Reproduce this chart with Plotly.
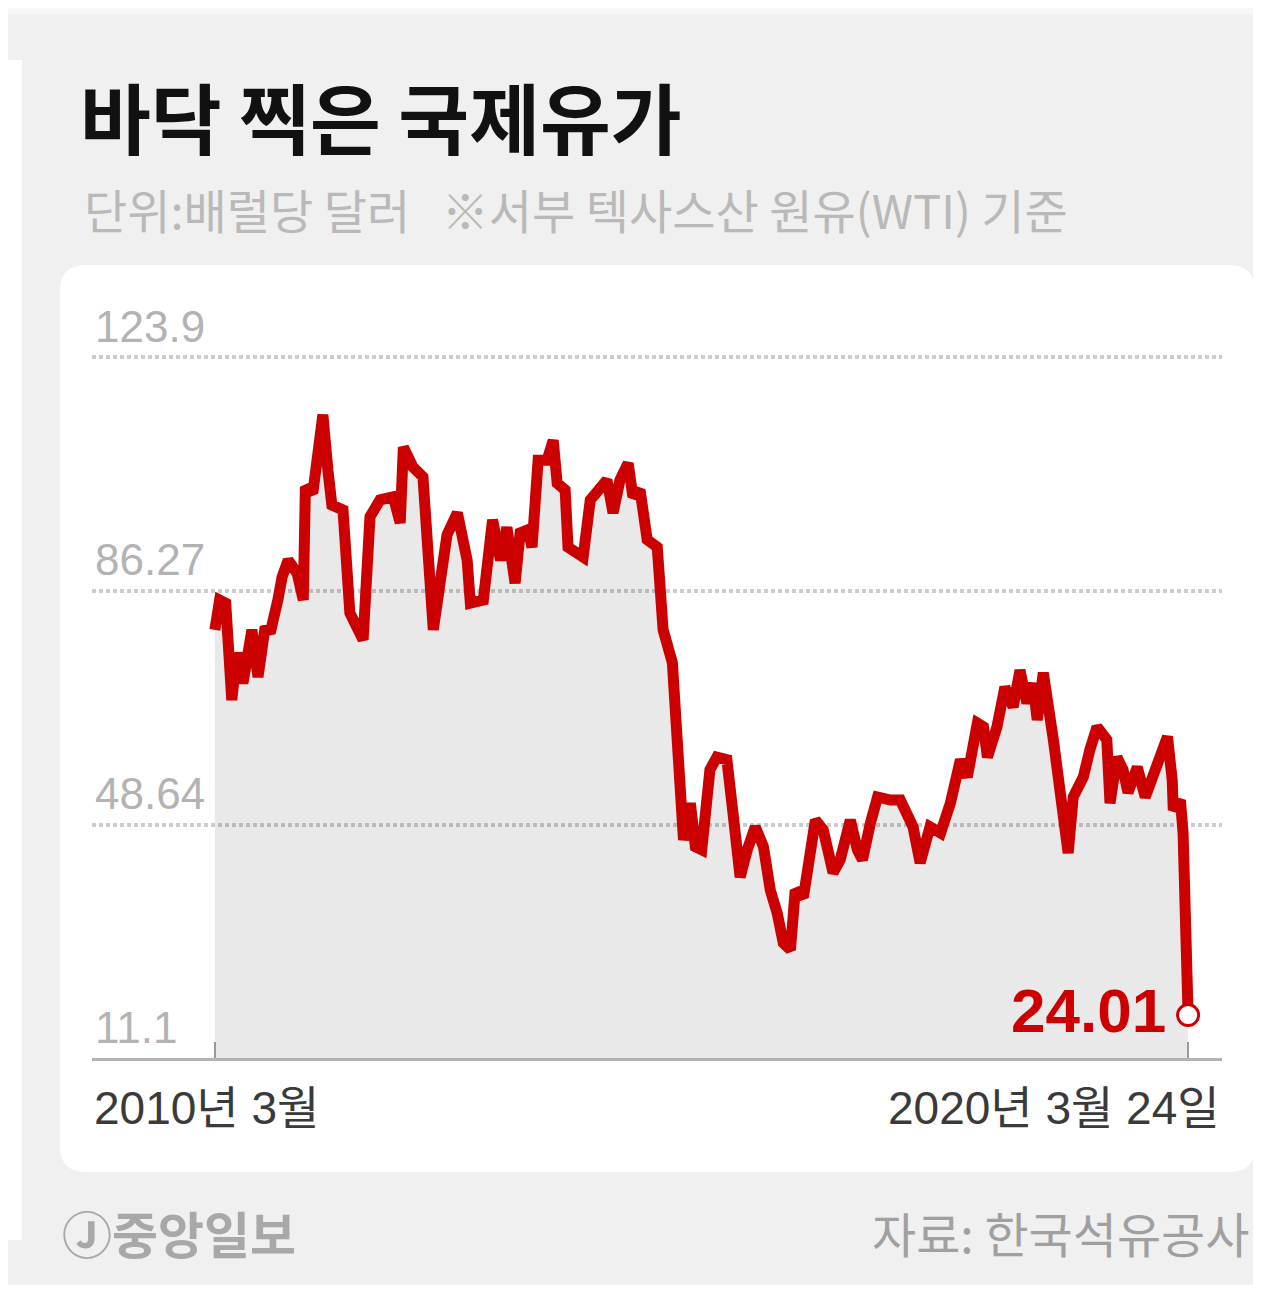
import plotly.graph_objects as go

# WTI price (USD per barrel)
dates = [
    "2010-03-01", "2010-03-19", "2010-04-11", "2010-05-04", "2010-05-23", "2010-06-15",
    "2010-07-19", "2010-08-11", "2010-09-07", "2010-09-26", "2010-10-25", "2010-11-10",
    "2010-12-03", "2011-01-06", "2011-01-29", "2011-02-06", "2011-03-06", "2011-04-13",
    "2011-05-02", "2011-05-17", "2011-06-28", "2011-07-24", "2011-09-12", "2011-10-08",
    "2011-11-15", "2012-01-04", "2012-01-30", "2012-02-11", "2012-03-18", "2012-04-25",
    "2012-06-03", "2012-07-25", "2012-09-02", "2012-10-09", "2012-10-21", "2012-12-09",
    "2013-01-13", "2013-02-12", "2013-03-08", "2013-04-08", "2013-04-27", "2013-05-27",
    "2013-06-11", "2013-07-04", "2013-08-07", "2013-08-30", "2013-09-14", "2013-10-14",
    "2013-10-25", "2013-11-29", "2013-12-21", "2014-01-17", "2014-02-24", "2014-03-21",
    "2014-04-13", "2014-05-09", "2014-06-09", "2014-06-27", "2014-07-24", "2014-08-20",
    "2014-09-27", "2014-10-19", "2014-11-23", "2014-12-12", "2015-01-04", "2015-01-30",
    "2015-02-18", "2015-03-14", "2015-04-14", "2015-05-10", "2015-06-17", "2015-07-10",
    "2015-08-06", "2015-09-02", "2015-10-02", "2015-11-02", "2015-11-28", "2015-12-24",
    "2016-01-16", "2016-02-12", "2016-03-01", "2016-04-01", "2016-04-27", "2016-05-16",
    "2016-06-15", "2016-07-22", "2016-08-18", "2016-09-25", "2016-10-22", "2016-11-10",
    "2016-12-10", "2017-01-06", "2017-02-24", "2017-04-02", "2017-05-20", "2017-06-16",
    "2017-07-23", "2017-09-01", "2017-10-08", "2017-11-15", "2017-12-11", "2018-01-18",
    "2018-02-10", "2018-02-25", "2018-04-02", "2018-05-02", "2018-06-02", "2018-06-28",
    "2018-07-24", "2018-08-16", "2018-09-01", "2018-09-24", "2018-11-01", "2018-12-04",
    "2018-12-27", "2019-01-15", "2019-02-22", "2019-03-19", "2019-04-15", "2019-05-22",
    "2019-06-03", "2019-06-29", "2019-07-22", "2019-08-10", "2019-09-14", "2019-10-14",
    "2019-11-13", "2019-12-17", "2020-01-06", "2020-01-24", "2020-01-28", "2020-02-24",
    "2020-03-05", "2020-03-24",
]
prices = [
    80.0, 84.8, 84.3, 68.7, 76.3, 71.4,
    80.0, 72.4, 80.5, 79.5, 84.8, 88.5,
    91.2, 89.1, 84.8, 103.0, 102.0, 114.6,
    105.7, 100.1, 99.3, 82.7, 78.4, 98.2,
    100.9, 101.4, 97.2, 109.4, 106.2, 104.6,
    80.0, 95.3, 98.8, 91.2, 84.3, 84.8,
    97.7, 91.2, 96.5, 87.5, 95.6, 96.1,
    93.3, 107.3, 107.3, 110.5, 103.6, 102.5,
    93.3, 92.4, 91.7, 100.9, 103.0, 104.1,
    98.8, 104.1, 106.8, 101.4, 102.5, 94.5,
    93.3, 80.0, 74.7, 58.6, 46.2, 52.1,
    45.1, 44.6, 57.5, 59.5, 59.1, 50.5,
    40.2, 44.6, 48.3, 45.1, 38.1, 34.4,
    29.6, 28.5, 38.1, 37.0, 45.7, 49.4,
    47.8, 40.9, 43.0, 49.4, 44.6, 43.0,
    48.9, 53.1, 52.6, 52.6, 48.3, 42.5,
    48.3, 47.3, 52.1, 59.1, 56.3, 65.0,
    64.4, 59.5, 64.4, 70.8, 67.6, 73.5,
    68.2, 71.4, 65.5, 73.1, 62.3, 50.5,
    44.1, 53.1, 56.3, 60.7, 64.4, 62.3,
    52.1, 59.5, 57.5, 53.8, 57.9, 53.1,
    56.3, 60.7, 62.8, 55.8, 51.0, 52.6,
    47.3, 18.0,
]

y_ticks = [11.1, 48.64, 86.27, 123.9]
y_labels = ["11.1", "48.64", "86.27", "123.9"]
x_ticks = ["2010-03-01", "2020-03-24"]
x_labels = ["2010년 3월", "2020년 3월 24일"]
last_label = "24.01"

title = "바닥 찍은 국제유가"
subtitle = "단위:배럴당 달러\u00a0\u00a0 ※서부 텍사스산 원유(WTI) 기준"
brand = "Ⓙ중앙일보"
source = "자료: 한국석유공사"

RED = "#cc0000"
FONT = "Liberation Sans, Noto Sans CJK KR"

# geometry in reference-page pixels; the page body adds an 8px margin
PAGE_W, PAGE_H, OFF = 1261, 1293, 8
W, H = PAGE_W - 2 * OFF, PAGE_H - 2 * OFF
L, R, T, B = 92, 1222, 300, 1058
GRID_TOP = 357  # pixel row of the 123.9 gridline


def px(x):
    return (x - L) / (R - L)


def py(y):
    return (B - y) / (B - T)


def rounded_rect(x0, y0, x1, y1, r):
    pts = [
        ("M", x0 + r, y0), ("L", x1 - r, y0), ("Q", x1, y0, x1, y0 + r),
        ("L", x1, y1 - r), ("Q", x1, y1, x1 - r, y1), ("L", x0 + r, y1),
        ("Q", x0, y1, x0, y1 - r), ("L", x0, y0 + r), ("Q", x0, y0, x0 + r, y0),
    ]
    out = []
    for p in pts:
        cmd, coords = p[0], p[1:]
        xy = []
        for i in range(0, len(coords), 2):
            xy.append(f"{px(coords[i]):.5f},{py(coords[i + 1]):.5f}")
        out.append(cmd + " " + " ".join(xy))
    return " ".join(out) + " Z"


# extend the value axis above 123.9 so that its label has room
units_per_px = (y_ticks[-1] - y_ticks[0]) / (B - GRID_TOP)
y_top = y_ticks[0] + (B - T) * units_per_px

fig = go.Figure()

fig.add_trace(go.Scatter(
    x=dates, y=prices, mode="lines",
    line=dict(color=RED, width=11),
    fill="tozeroy", fillcolor="rgba(0,0,0,0.085)",
    hoverinfo="skip", showlegend=False,
))

fig.add_trace(go.Scatter(
    x=[dates[-1]], y=[prices[-1]], mode="markers",
    marker=dict(symbol="circle", size=21, color="white", line=dict(color=RED, width=3)),
    cliponaxis=False, hoverinfo="skip", showlegend=False,
))

shapes = [
    dict(type="rect", xref="paper", yref="paper", x0=px(0), x1=px(PAGE_W), y0=py(0), y1=py(14),
         fillcolor="#f7f7f7", line=dict(width=0), layer="below"),
    dict(type="rect", xref="paper", yref="paper", x0=px(0), x1=px(22), y0=py(60), y1=py(1240),
         fillcolor="white", line=dict(width=0), layer="below"),
    dict(type="path", xref="paper", yref="paper", path=rounded_rect(60, 265, 1255, 1172, 26),
         fillcolor="white", line=dict(width=0), layer="below"),
]

annotations = [
    dict(text=title, x=px(78), y=py(116), xanchor="left", yanchor="middle",
         font=dict(family="Noto Sans CJK KR", size=77, color="#111111", weight="bold")),
    dict(text=subtitle, x=px(82), y=py(208), xanchor="left", yanchor="middle",
         font=dict(family="Noto Sans CJK KR", size=47, color="#b9b9b9")),
    dict(text=x_labels[0], x=x_ticks[0], xref="x", y=py(1108), xanchor="center",
         yanchor="middle", xshift=-8, font=dict(family=FONT, size=46, color="#3a3a3a")),
    dict(text=x_labels[1], x=px(R), y=py(1108), xanchor="right", yanchor="middle",
         font=dict(family=FONT, size=46, color="#3a3a3a")),
    dict(text=last_label, x=dates[-1], y=prices[-1], xref="x", yref="y",
         xanchor="right", yanchor="middle", xshift=-20, yshift=5,
         font=dict(family="Liberation Sans", size=62, color=RED, weight="bold")),
    dict(text=brand, x=px(60), y=py(1232), xanchor="left", yanchor="middle",
         font=dict(family="Noto Sans CJK KR", size=50, color="#a8a8a8", weight="bold")),
    dict(text=source, x=px(1251), y=py(1232), xanchor="right", yanchor="middle",
         font=dict(family="Noto Sans CJK KR", size=48, color="#a0a0a0")),
]
for a in annotations:
    a.setdefault("xref", "paper")
    a.setdefault("yref", "paper")
    a["showarrow"] = False

fig.update_layout(
    width=W, height=H,
    margin=dict(l=L - OFF, r=(PAGE_W - OFF) - R, t=T - OFF, b=(PAGE_H - OFF) - B, pad=0),
    paper_bgcolor="#f0f0f0",
    plot_bgcolor="white",
    shapes=shapes,
    annotations=annotations,
    showlegend=False,
    xaxis=dict(
        type="date", range=["2008-11-22", "2020-07-30"],
        tickvals=x_ticks, showticklabels=False,
        ticks="inside", ticklen=16, tickwidth=2, tickcolor="#999999",
        showgrid=False, zeroline=False,
        showline=True, linecolor="#b3b3b3", linewidth=3,
    ),
    yaxis=dict(
        range=[y_ticks[0], y_top],
        tickvals=y_ticks, ticktext=y_labels,
        ticklabelposition="inside top",
        tickfont=dict(family="Liberation Sans", size=44, color="#b3b3b3"),
        showgrid=True, gridcolor="#cccccc", gridwidth=4, griddash="4px,3px",
        zeroline=False, showline=False, ticks="",
    ),
)

fig.write_html("out.html")
